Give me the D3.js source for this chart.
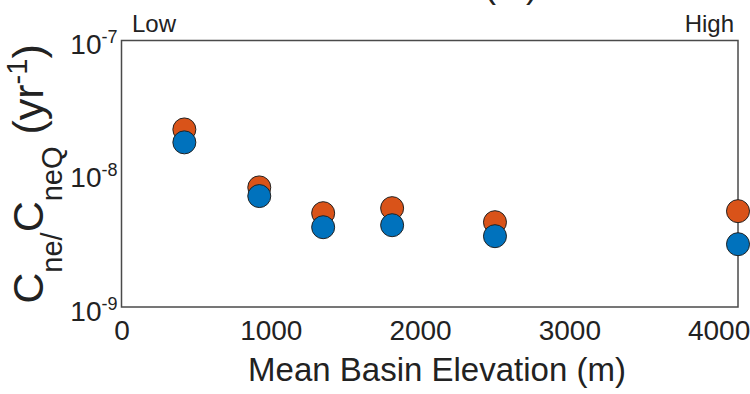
<!DOCTYPE html>
<html>
<head>
<meta charset="utf-8">
<script src="https://cdn.jsdelivr.net/npm/d3@7"></script>
<style>
  body { margin: 0; background: #fff; }
  svg { display: block; font-family: "Liberation Sans", Arial, sans-serif; }
</style>
</head>
<body>
<svg id="chart" width="750" height="394"></svg>
<script>
// mean basin elevation (m) for each basin
const elevation = [421, 923, 1351, 1813, 2502, 4130];
// Cne/CneQ, orange series and blue series (yr^-1)
const orangeVals = [2.15e-8, 7.9e-9, 5.06e-9, 5.52e-9, 4.33e-9, 5.24e-9];
const blueVals = [1.72e-8, 6.8e-9, 3.97e-9, 4.11e-9, 3.40e-9, 2.96e-9];
const xTicks = [0, 1000, 2000, 3000, 4000];
const yTicks = [1e-9, 1e-8, 1e-7];
const yTickExp = ["-9", "-8", "-7"];

const svg = d3.select("#chart");
const plotL = 121.5, plotR = 738, plotT = 40.5, plotB = 307;

const x = d3.scaleLinear().domain([0, 4130]).range([plotL, plotR]);
const y = d3.scaleLog().domain([1e-9, 1e-7]).range([plotB, plotT]);

// title line above, cut off by the top edge in the source figure
svg.append("text")
    .attr("x", 511).attr("y", -3)
    .attr("text-anchor", "middle")
    .attr("font-size", 36)
    .attr("fill", "#222")
    .text("(m)");

// frame
svg.append("rect")
    .attr("x", plotL).attr("y", plotT)
    .attr("width", plotR - plotL).attr("height", plotB - plotT)
    .attr("fill", "none")
    .attr("stroke", "#4a4a4a")
    .attr("stroke-width", 1.5);

// x axis
const gx = svg.append("g")
    .attr("transform", `translate(0,${plotB})`)
    .call(d3.axisBottom(x).tickValues(xTicks).tickSize(0).tickFormat(d3.format("d")));
gx.select(".domain").remove();
gx.selectAll("text")
    .attr("y", 33).attr("dy", 0)
    .attr("font-size", 28)
    .attr("font-family", "Liberation Sans, Arial, sans-serif")
    .attr("fill", "#222");

// y axis, 10 with a superscript exponent
const gy = svg.append("g")
    .attr("transform", `translate(${plotL},0)`)
    .call(d3.axisLeft(y).tickValues(yTicks).tickSize(0).tickPadding(4).tickFormat(""));
gy.select(".domain").remove();
gy.selectAll("text")
    .attr("dy", 13)
    .attr("font-size", 28)
    .attr("font-family", "Liberation Sans, Arial, sans-serif")
    .attr("fill", "#222")
    .each(function (d, i) {
        const t = d3.select(this);
        t.append("tspan").text("10");
        t.append("tspan").attr("dy", -11).attr("font-size", 18).text(yTickExp[i]);
    });

// Low / High annotations
svg.append("text")
    .attr("x", 132).attr("y", 32)
    .attr("font-size", 24).attr("fill", "#222")
    .text("Low");
svg.append("text")
    .attr("x", 734).attr("y", 32)
    .attr("text-anchor", "end")
    .attr("font-size", 24).attr("fill", "#222")
    .text("High");

// axis titles
svg.append("text")
    .attr("x", 437).attr("y", 381)
    .attr("text-anchor", "middle")
    .attr("font-size", 33).attr("fill", "#222")
    .text("Mean Basin Elevation (m)");

const yl = svg.append("text")
    .attr("transform", "translate(43,174) rotate(-90)")
    .attr("text-anchor", "middle")
    .attr("font-size", 43).attr("fill", "#222");
yl.append("tspan").text("C");
yl.append("tspan").attr("font-size", 29).attr("dy", 19).text("ne/");
yl.append("tspan").attr("dy", -19).text("C");
yl.append("tspan").attr("font-size", 29).attr("dy", 19).text("neQ");
yl.append("tspan").attr("dy", -19).text("\u00a0(yr");
yl.append("tspan").attr("font-size", 29).attr("dy", -16).text("-1");
yl.append("tspan").attr("dy", 16).text(")");

// points: orange drawn first, blue on top
const pts = elevation.map((e, i) => ({ e: e, o: orangeVals[i], b: blueVals[i] }));
svg.append("g").selectAll("circle")
    .data(pts).join("circle")
    .attr("cx", d => x(d.e)).attr("cy", d => y(d.o))
    .attr("r", 11.5)
    .attr("fill", "#D95319").attr("stroke", "#222").attr("stroke-width", 1);
svg.append("g").selectAll("circle")
    .data(pts).join("circle")
    .attr("cx", d => x(d.e)).attr("cy", d => y(d.b))
    .attr("r", 11.5)
    .attr("fill", "#0072BD").attr("stroke", "#222").attr("stroke-width", 1);
</script>
</body>
</html>
